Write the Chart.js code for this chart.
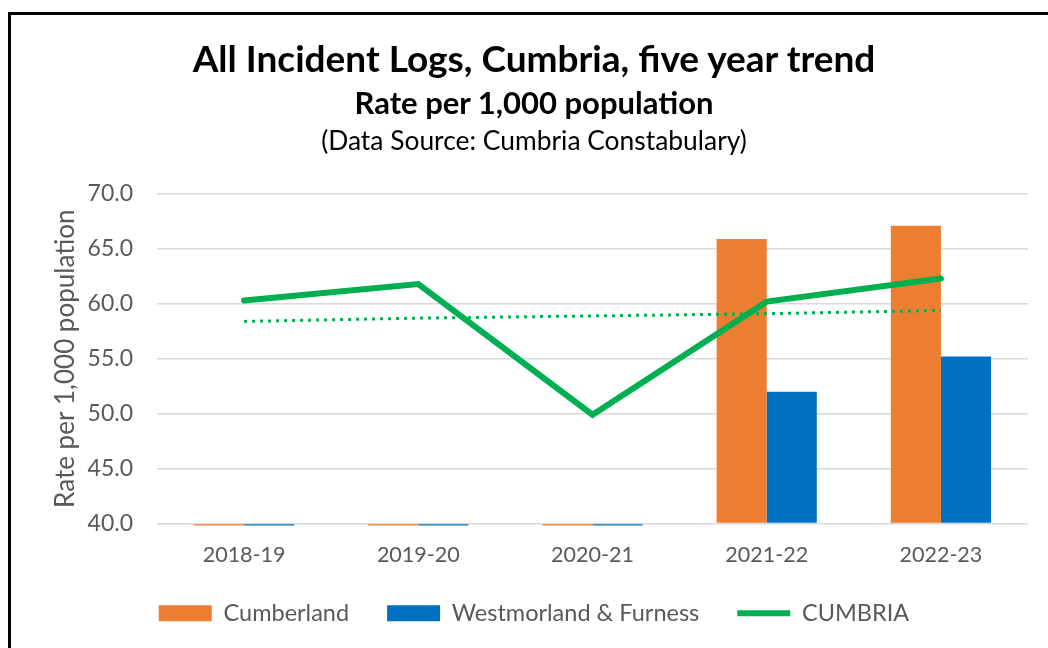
<!DOCTYPE html>
<html>
<head>
<meta charset="utf-8">
<script src="https://cdn.jsdelivr.net/npm/chart.js@4.4.1/dist/chart.umd.min.js"></script>
<style>
  html, body { margin: 0; padding: 0; background: #fff; }
  #wrap { position: relative; width: 1048px; height: 648px; overflow: hidden; background: #fff; }
  #frame { position: absolute; left: 8px; top: 12px; width: 1100px; height: 700px;
           border-left: 3px solid #000; border-top: 3px solid #000; pointer-events: none; }
  canvas { position: absolute; left: 0; top: 0; }
  .t { position: absolute; left: 0; width: 1068px; text-align: center; font-family: Lato, sans-serif; color: #000; white-space: nowrap; line-height: 1.2; }
  #t1 { top: 36px; font-size: 37px; font-weight: bold; }
  #t2 { top: 84px; font-size: 31px; font-weight: bold; }
  #t3 { top: 125px; font-size: 26.4px; }
</style>
</head>
<body>
<div id="wrap">
  <canvas id="c" width="1048" height="648"></canvas>
  <div class="t" id="t1">All Incident Logs, Cumbria, five year trend</div>
  <div class="t" id="t2">Rate per 1,000 population</div>
  <div class="t" id="t3">(Data Source: Cumbria Constabulary)</div>
  <div id="frame"></div>
</div>
<script>
const categories = ['2018-19', '2019-20', '2020-21', '2021-22', '2022-23'];
const cumberland = [0, 0, 0, 65.9, 67.1];
const westmorlandFurness = [0, 0, 0, 52.0, 55.2];
const cumbria = [60.3, 61.8, 49.9, 60.2, 62.3];
const cumbriaTrend = [58.4, 58.7, 58.9, 59.1, 59.4];
const yTicks = [40, 45, 50, 55, 60, 65, 70];

const GREY = '#595959';
const barClip = { left: 0, top: 0, right: 0, bottom: 2 };

new Chart(document.getElementById('c'), {
  type: 'bar',
  data: {
    labels: categories,
    datasets: [
      { label: 'Cumberland', data: cumberland, backgroundColor: '#ED7D31', borderWidth: 0, base: 40,
        order: 2, clip: barClip, categoryPercentage: 0.575, barPercentage: 1.0 },
      { label: 'Westmorland & Furness', data: westmorlandFurness, backgroundColor: '#0070C0', borderWidth: 0, base: 40,
        order: 2, clip: barClip, categoryPercentage: 0.575, barPercentage: 1.0 },
      { type: 'line', label: 'CUMBRIA', data: cumbria, borderColor: '#00B050', backgroundColor: '#00B050',
        borderWidth: 6, pointRadius: 0, tension: 0, borderCapStyle: 'round', borderJoinStyle: 'miter', order: 1 },
      { type: 'line', label: 'Linear (CUMBRIA)', data: cumbriaTrend, borderColor: '#00B050',
        borderWidth: 3, borderDash: [3, 5], pointRadius: 0, tension: 0, order: 0 }
    ]
  },
  options: {
    responsive: false,
    animation: false,
    layout: { padding: { left: 40, right: 20, top: 194, bottom: 13 } },
    plugins: {
      title: { display: false },
      tooltip: { enabled: false },
      legend: {
        position: 'bottom',
        labels: {
          usePointStyle: true,
          pointStyleWidth: 53,
          boxHeight: 16,
          padding: 38,
          color: GREY,
          font: { family: 'Lato', size: 23.5 },
          filter: (item) => item.text !== 'Linear (CUMBRIA)',
          generateLabels: (chart) => chart.data.datasets.map((ds, i) => ({
            text: ds.label,
            datasetIndex: i,
            fillStyle: ds.type === 'line' ? ds.borderColor : ds.backgroundColor,
            strokeStyle: ds.type === 'line' ? ds.borderColor : ds.backgroundColor,
            lineWidth: ds.type === 'line' ? 6 : 0,
            pointStyle: ds.type === 'line' ? 'line' : 'rect',
            fontColor: GREY,
            hidden: false
          }))
        }
      }
    },
    scales: {
      x: {
        grid: { display: false },
        border: { display: false },
        ticks: { color: GREY, font: { family: 'Lato', size: 21.5 }, padding: 11 },
        afterFit: (s) => { s.height = 40; }
      },
      y: {
        min: 40, max: 70,
        afterBuildTicks: (s) => { s.ticks = yTicks.map(v => ({ value: v })); },
        afterFit: (s) => { s.width = 117; },
        grid: { color: '#D9D9D9', lineWidth: 1.5, drawTicks: false },
        border: { display: false },
        ticks: { color: GREY, font: { family: 'Lato', size: 23 }, padding: 24,
                 callback: (v) => Number(v).toFixed(1) },
        title: { display: true, text: 'Rate per 1,000 population', color: GREY,
                 font: { family: 'Lato', size: 26 }, padding: { top: 10, bottom: 0 } }
      }
    }
  }
});
</script>
</body>
</html>
